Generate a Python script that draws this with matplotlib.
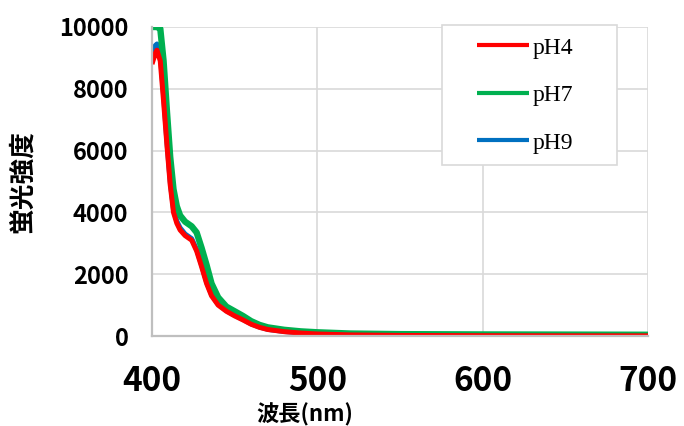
import matplotlib
matplotlib.use('Agg')
import matplotlib.pyplot as plt
from matplotlib.patches import Rectangle

# wavelength grid (nm) and fluorescence intensity
wavelength = [400, 402, 403, 405, 407, 409, 411, 413, 415, 417, 420, 424, 427, 430, 433,
              436, 440, 445, 450, 455, 460, 465, 470, 480, 490, 500, 520, 550, 600, 650, 700]
ph4 = [8800, 9150, 9250, 8900, 7600, 6200, 4900, 4000, 3650, 3430, 3250, 3100, 2750, 2240, 1700,
       1300, 1000, 800, 650, 520, 380, 280, 210, 140, 95, 65, 35, 18, 10, 6, 5]
ph7 = [10000, 10000, 10000, 9950, 8900, 7300, 5800, 4750, 4200, 3900, 3700, 3550, 3350, 2850, 2300,
       1700, 1250, 950, 800, 650, 480, 360, 280, 200, 150, 120, 80, 60, 50, 45, 40]
ph9 = [9100, 9400, 9450, 9100, 7800, 6300, 5000, 4100, 3720, 3500, 3300, 3150, 2800, 2300, 1750,
       1340, 1030, 820, 670, 535, 390, 290, 215, 145, 98, 68, 37, 20, 12, 8, 7]

labels = ['pH4', 'pH7', 'pH9']
colors = ['#FF0000', '#00B050', '#0070C0']

jp = 'Noto Sans CJK JP'
plt.rcParams['font.family'] = [jp, 'DejaVu Sans']

fig = plt.figure(figsize=(6.84, 4.26), dpi=100)
ax = fig.add_axes([152/684, 1-336/426, 496/684, 309/426])

# draw order: blue underneath, red on top
l9, = ax.plot(wavelength, ph9, color=colors[2], lw=3.6, solid_capstyle='butt')
l7, = ax.plot(wavelength, ph7, color=colors[1], lw=4.6, solid_capstyle='butt')
l4, = ax.plot(wavelength, ph4, color=colors[0], lw=3.6, solid_capstyle='butt')

ax.set_xlim(400, 700)
ax.set_ylim(0, 10000)
ax.set_xticks([400, 500, 600, 700])
ax.set_yticks(range(0, 10001, 2000))

ax.grid(True, color='#d9d9d9', lw=1.2)
ax.set_axisbelow(True)
for s in ['top', 'right']:
    ax.spines[s].set_visible(False)
for s in ['left', 'bottom']:
    ax.spines[s].set_color('#bfbfbf')
    ax.spines[s].set_linewidth(1.6)

ax.tick_params(axis='both', length=0)
ax.tick_params(axis='x', pad=21, labelsize=24)
ax.tick_params(axis='y', pad=17, labelsize=17)
for t in ax.get_xticklabels() + ax.get_yticklabels():
    t.set_fontweight('bold')

ax.set_xlabel('波長(nm)', fontsize=16, fontweight='bold', va='center', ha='center')
ax.xaxis.set_label_coords(0.308, -0.256)
ax.set_ylabel('蛍光強度', fontsize=18.5, fontweight='bold', va='center', ha='center')
ax.yaxis.set_label_coords(-0.262, 0.5)

# legend frame and entries
fig.patches.append(Rectangle((442/684, 1-165/426), 175/684, 140/426,
                             transform=fig.transFigure, fill=True, facecolor='white',
                             edgecolor='#d9d9d9', lw=1.2, zorder=5))
leg = fig.legend([l4, l7, l9], labels, loc='upper left',
                 bbox_to_anchor=(477/684, 1-37/426), frameon=False,
                 borderpad=0, borderaxespad=0, handlelength=2.2, handletextpad=0.15,
                 labelspacing=1.1, prop={'family': 'Liberation Serif', 'size': 17})
leg.set_zorder(6)
for h in leg.legend_handles:
    h.set_linewidth(3)

fig.savefig('out.png', dpi=100)
